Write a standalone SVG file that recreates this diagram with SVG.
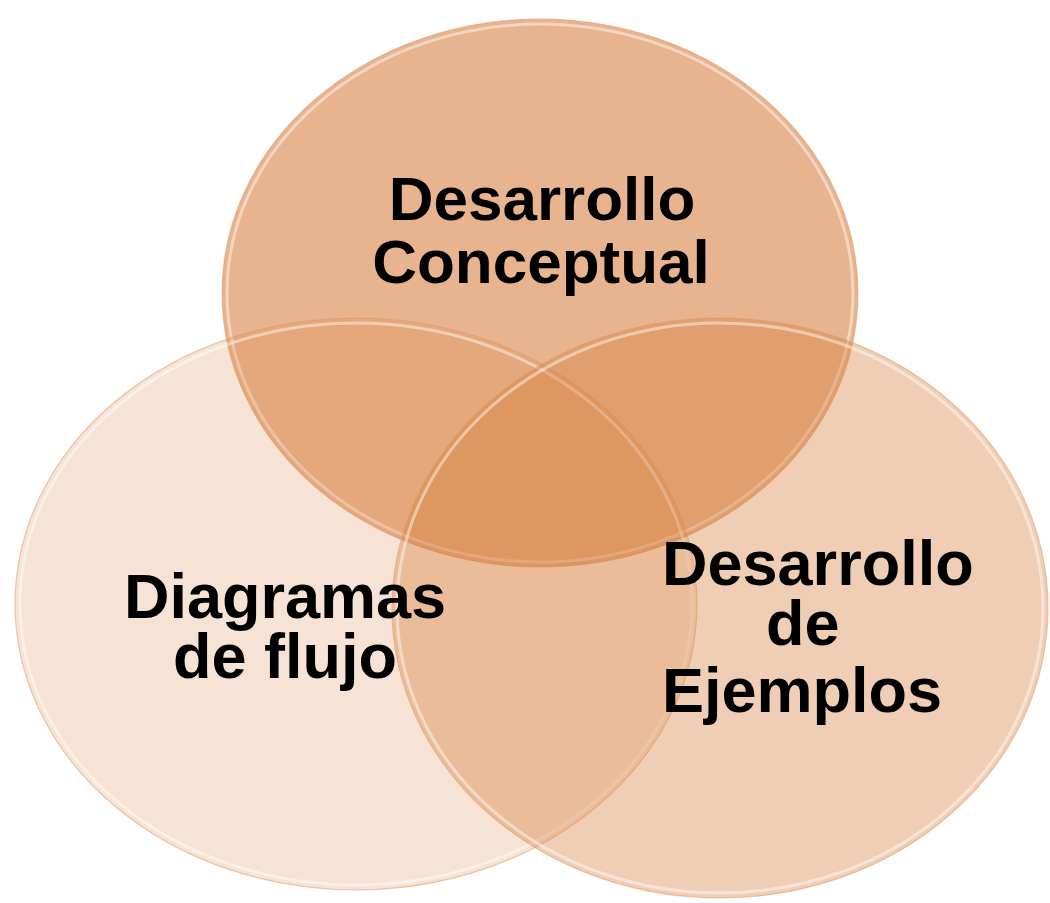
<svg xmlns="http://www.w3.org/2000/svg" width="1050" height="903" viewBox="0 0 1050 903">
  <style>
    .fill { fill: rgb(214,122,55); }
    .rim { fill: none; stroke: rgb(226,150,95); stroke-width: 1.2; stroke-opacity: 0.5; }
    .gloss { fill: none; stroke: #ffffff; stroke-width: 3; stroke-opacity: 0.45; }
    .lbl { font-family: "Liberation Sans", Arial, sans-serif; font-weight: bold; fill: #000000; }
  </style>
  <rect width="1050" height="903" fill="#ffffff"/>
  <g id="node-conceptual">
    <ellipse class="fill" cx="540" cy="293" rx="318" ry="274" fill-opacity="0.56"/>
    <ellipse class="rim" cx="540" cy="293" rx="318" ry="274"/>
    <ellipse class="gloss" cx="540" cy="293" rx="313" ry="269"/>
  </g>
  <g id="node-diagramas">
    <ellipse class="fill" cx="356" cy="604" rx="341" ry="286" fill-opacity="0.21"/>
    <ellipse class="rim" cx="356" cy="604" rx="341" ry="286"/>
    <ellipse class="gloss" cx="356" cy="604" rx="336" ry="281"/>
  </g>
  <g id="node-ejemplos">
    <ellipse class="fill" cx="720" cy="608" rx="328" ry="290" fill-opacity="0.37"/>
    <ellipse class="rim" cx="720" cy="608" rx="328" ry="290"/>
    <ellipse class="gloss" cx="720" cy="608" rx="323" ry="285"/>
  </g>
  <g id="labels">
    <text id="label-conceptual" class="lbl" font-size="62" text-anchor="middle"><tspan x="542" y="220">Desarrollo</tspan><tspan x="541" y="283">Conceptual</tspan></text>
    <text id="label-diagramas" class="lbl" font-size="63" text-anchor="middle"><tspan x="285" y="618">Diagramas</tspan><tspan x="285" y="678">de flujo</tspan></text>
    <text id="label-ejemplos" class="lbl" font-size="63"><tspan x="662" y="585">Desarrollo</tspan><tspan x="766" y="645">de</tspan><tspan x="662" y="712">Ejemplos</tspan></text>
  </g>
</svg>
